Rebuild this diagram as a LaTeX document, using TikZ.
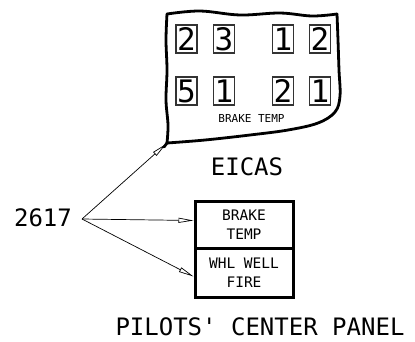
\documentclass[tikz,border=0pt]{standalone}
\usepackage{fontspec}
\setmainfont{DejaVu Sans Mono}
\usetikzlibrary{arrows.meta}
\tikzset{
  big/.style={font=\fontsize{24}{26}\selectfont, inner sep=0pt},
  digitbox/.style={draw=black!80, line width=1.3pt, minimum width=21pt, minimum height=28pt, inner sep=0pt, font=\fontsize{31}{31}\selectfont},
  panelbox/.style={draw, line width=3pt, minimum width=98pt, inner sep=0pt, align=center, font=\fontsize{14.5}{19}\selectfont},
  outline/.style={line width=2.8pt, line join=round, line cap=round},
  lead/.style={line width=0.7pt, -{Triangle[open, length=15pt, width=5pt]}},
}
\begin{document}
\begin{tikzpicture}[x=1pt,y=-1pt]
\useasboundingbox (0,0) rectangle (415,341);
% EICAS outline
\draw[outline] plot[smooth, tension=0.6] coordinates {(167,143) (168,125) (166,100) (167,70) (166,40) (167,14)};
\draw[outline] plot[smooth, tension=0.6] coordinates {(167,14) (200,11) (240,15) (280,13) (312,16) (337,14)};
\draw[outline] plot[smooth, tension=0.6] coordinates {(337,14) (338,40) (339,70) (340,96) (335,112) (318,123) (288,130) (250,135) (205,140) (167,143)};
\draw[outline] (167,143) -- (164,147);
\coordinate (eicastip) at (166,144);
% digit boxes
\node[digitbox] (d1) at (186.5,39) {2};
\node[digitbox] (d2) at (224,39) {3};
\node[digitbox] (d3) at (283,39) {1};
\node[digitbox] (d4) at (320,39) {2};
\node[digitbox] (d5) at (186.5,91) {5};
\node[digitbox] (d6) at (224,91) {1};
\node[digitbox] (d7) at (283,91) {2};
\node[digitbox] (d8) at (320,91) {1};
\node[font=\fontsize{11}{12}\selectfont, inner sep=0pt] (bt) at (251.5,118) {BRAKE TEMP};
\node[big] (eicas) at (247,167) {EICAS};
% panel
\node[panelbox, minimum height=47pt] (p1) at (244,224.5) {BRAKE\\TEMP};
\node[panelbox, minimum height=49pt] (p2) at (244,272.5) {WHL WELL\\FIRE};
% source
\node[big] (num) at (43,218) {2617};
\coordinate (src) at (82,219);
\draw[lead] (src) -- (eicastip);
\draw[lead] (src) -- ([yshift=4pt]p1.west);
\draw[lead] (src) -- ([yshift=-4pt]p2.west);
\node[big, anchor=base, text depth=0pt] (pcp) at (260,335) {PILOTS\textquotesingle{} CENTER PANEL};
\end{tikzpicture}
\end{document}
